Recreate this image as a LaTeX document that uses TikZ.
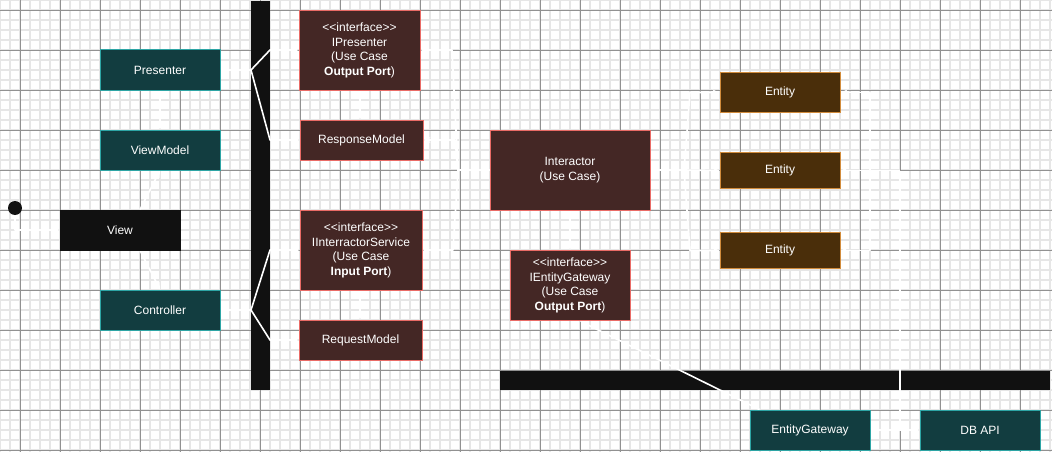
\documentclass[tikz,border=0pt]{standalone}
\usepackage{fontspec}
\setmainfont{Liberation Sans}
\usetikzlibrary{arrows.meta}
\definecolor{tealfill}{RGB}{18,61,64}
\definecolor{tealline}{RGB}{45,165,165}
\definecolor{ifill}{RGB}{68,39,37}
\definecolor{iline}{RGB}{234,107,102}
\definecolor{efill}{RGB}{74,46,10}
\definecolor{eline}{RGB}{210,140,60}
\definecolor{blk}{RGB}{17,17,17}
\definecolor{gminor}{RGB}{230,230,230}
\definecolor{gmajor}{RGB}{145,145,145}
\pgfdeclarelayer{bg}
\pgfdeclarelayer{edges}
\pgfsetlayers{bg,edges,main}
\tikzset{
  box/.style={rectangle, draw, line width=1pt, inner sep=0pt, text=white, align=center,
    font=\fontsize{12}{14.5}\selectfont},
  tealbox/.style={box, fill=tealfill, draw=tealline, minimum width=120pt, minimum height=40pt},
  ibox/.style={box, fill=ifill, draw=iline},
  ebox/.style={box, fill=efill, draw=eline, minimum width=120pt},
  blkbox/.style={box, fill=blk, draw=blk},
  bar/.style={rectangle, fill=blk, inner sep=0pt},
  wire/.style={draw=white, line width=1.6pt, line join=round, -{Stealth[length=7pt,width=6pt]}},
  plainwire/.style={draw=white, line width=1.6pt, line join=round},
  minorline/.style={draw=gminor, line width=1.5pt},
  majorline/.style={draw=gmajor, line width=0.9pt}
}
\begin{document}
\begin{tikzpicture}[x=1pt,y=-1pt]
\useasboundingbox (0,0) rectangle (1052,452);
\begin{pgfonlayer}{bg}
\fill[white] (0,0) rectangle (1052,452);
\foreach \x in {0,10,...,1050} \draw[minorline] (\x,0) -- (\x,452);
\foreach \y in {0,10,...,450} \draw[minorline] (0,\y) -- (1052,\y);
\foreach \x in {20,60,...,1020} \draw[majorline] (\x,0) -- (\x,452);
\foreach \y in {10,50,...,450} \draw[majorline] (0,\y) -- (1052,\y);
\node[bar, minimum width=19pt, minimum height=389pt] (vbar) at (260.5,195.5) {};
\node[bar, minimum width=550pt, minimum height=19pt] (hbar) at (775,380.5) {};
\end{pgfonlayer}

% nodes
\node[circle, fill=blk, inner sep=0pt, minimum size=14pt] (dot) at (15,208) {};
\node[tealbox] (presenter) at (160,70) {Presenter};
\node[tealbox] (viewmodel) at (160,150) {ViewModel};
\node[blkbox, minimum width=120pt, minimum height=40pt] (view) at (120,230) {View};
\node[tealbox] (controller) at (160,310) {Controller};

\node[ibox, minimum width=121pt, minimum height=80pt] (ipresenter) at (359.5,50.5)
  {<{}<interface>{}>\\IPresenter\\(Use Case\\\textbf{Output Port})};
\node[ibox, minimum width=123pt, minimum height=40pt] (response) at (361.5,140) {ResponseModel};
\node[ibox, minimum width=122pt, minimum height=80pt] (iservice) at (361,250.5)
  {<{}<interface>{}>\\IInterractorService\\(Use Case\\\textbf{Input Port})};
\node[ibox, minimum width=123pt, minimum height=40pt] (request) at (360.5,340) {RequestModel};

\node[ibox, minimum width=160pt, minimum height=80pt] (interactor) at (570,170) {Interactor\\(Use Case)};
\node[ibox, minimum width=120pt, minimum height=70pt] (igateway) at (570,285.5)
  {<{}<interface>{}>\\IEntityGateway\\(Use Case\\\textbf{Output Port})};

\node[ebox, minimum height=40pt] (entity1) at (780,92.5) {Entity};
\node[ebox, minimum height=36pt] (entity2) at (780,170.5) {Entity};
\node[ebox, minimum height=36pt] (entity3) at (780,250.5) {Entity};

\node[tealbox] (gateway) at (810,430) {EntityGateway};
\node[tealbox] (dbapi) at (980,430) {DB API};

% fork / bend points
\coordinate (pfork) at (251,70);
\coordinate (cfork) at (251,310);
\coordinate (ifork) at (458,170);
\coordinate (efork) at (684,170);
\coordinate (rfork) at (870,170);
\coordinate (dfork) at (900,430);

\begin{pgfonlayer}{edges}
\draw[wire] (presenter.south) -- (viewmodel.north);
\draw[wire] ([xshift=20pt]view.north) -- (viewmodel.south);
\draw[wire] ([xshift=20pt]view.south) -- (controller.north);
\draw[wire] (dot.south) -- (15,230) -- (view.west);

\draw[plainwire] (presenter.east) -- (pfork);
\draw[wire] (pfork) -- (270,50) -- (ipresenter.west |- 0,50);
\draw[wire] (pfork) -- (270,140) -- (response.west);
\draw[plainwire] (controller.east) -- (cfork);
\draw[wire] (cfork) -- (270,250) -- (iservice.west |- 0,250);
\draw[wire] (cfork) -- (270,340) -- (request.west);

\draw[wire] (ipresenter.south -| 360,0) -- (response.north -| 360,0);
\draw[wire] (iservice.south -| 360,0) -- (request.north -| 360,0);

\draw[plainwire] (interactor.west) -- (ifork);
\draw[wire] (ifork) -- (452,50) -- (ipresenter.east |- 0,50);
\draw[wire] (ifork) -- (455,140) -- (response.east);
\draw[wire] (ifork) -- (453,250) -- (iservice.east |- 0,250);

\draw[plainwire] (interactor.east) -- (efork);
\draw[wire] (efork) -- (690,92.5) -- (entity1.west);
\draw[wire] (efork) -- (entity2.west);
\draw[wire] (efork) -- (690,250.5) -- (entity3.west);

\draw[wire] (interactor.south) -- (igateway.north);
\draw[wire] ([xshift=10pt]gateway.north west) -- ([xshift=10pt]igateway.south);

\draw[wire] (gateway.east) -- (dbapi.west);
\draw[plainwire] (dfork) -- (900,170.5);
\draw[wire] (900,170.5) -- (entity2.east);
\draw[wire] (rfork) -- (870,92.5) -- (entity1.east);
\draw[wire] (rfork) -- (870,250.5) -- (entity3.east);
\end{pgfonlayer}
\end{tikzpicture}
\end{document}
